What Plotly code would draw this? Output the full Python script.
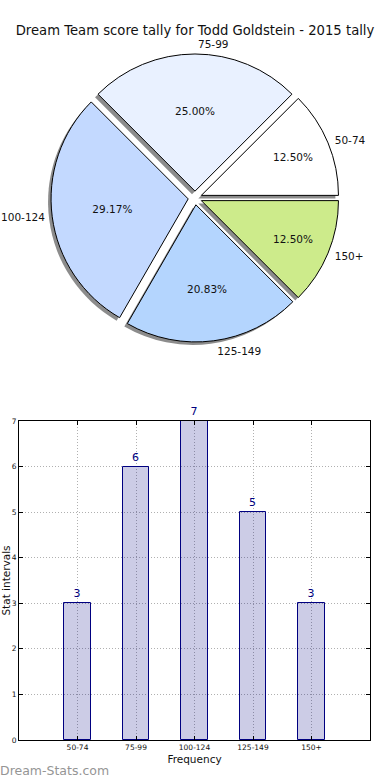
import plotly.graph_objects as go

# ---- data ----
categories = ["50-74", "75-99", "100-124", "125-149", "150+"]
counts = [3, 6, 7, 5, 3]
slice_colors = ["#ffffff", "#e9f1ff", "#c3d9ff", "#b4d5fe", "#cdeb8b"]
title_text = "Dream Team score tally for Todd Goldstein - 2015 tally"
bar_fill = "rgba(0,0,128,0.2)"
bar_edge = "#000080"

W, H = 390, 780
FONT = "DejaVu Sans"

# pie geometry (pixels -> paper)
cx, cy, half = 195, 198, 144
def dom_x(off=0, h=half):
    return [(cx - h + off) / W, (cx + h + off) / W]
def dom_y(off=0, h=half):
    return [(H - (cy + h + off)) / H, (H - (cy - h + off)) / H]

# first slice starts at 3 o'clock, counterclockwise (plotly ccw starts first slice clockwise of rotation)
rot = 90 - 360 * counts[0] / sum(counts)
pull = [0.05] * len(categories)
common = dict(labels=categories, values=counts, sort=False, direction="counterclockwise",
              rotation=rot, pull=pull, hoverinfo="skip", showlegend=False, automargin=False)

fig = go.Figure()
# shadow
fig.add_trace(go.Pie(**common, domain=dict(x=dom_x(-3), y=dom_y(3)),
                     marker=dict(colors=["#8c8c8c"] * 5, line=dict(width=0)),
                     textinfo="none"))
# main pie with percentages
fig.add_trace(go.Pie(**common, domain=dict(x=dom_x(), y=dom_y()),
                     marker=dict(colors=slice_colors, line=dict(color="#000000", width=1)),
                     textinfo="percent", texttemplate="%{percent:.2%}",
                     textposition="inside", insidetextorientation="horizontal",
                     insidetextfont=dict(family=FONT, size=10.5, color="#111111")))
# outside labels (slightly larger invisible pie so labels sit a bit further out)
fig.add_trace(go.Pie(**common, domain=dict(x=dom_x(h=148), y=dom_y(h=148)),
                     marker=dict(colors=["rgba(0,0,0,0)"] * 5, line=dict(width=0)),
                     textinfo="label", textposition="outside",
                     outsidetextfont=dict(family=FONT, size=10.5, color="#111111")))

# bar chart
fig.add_trace(go.Bar(x=categories, y=counts, width=0.45,
                     marker=dict(color=bar_fill, line=dict(color=bar_edge, width=1)),
                     text=counts, textposition="outside", cliponaxis=False,
                     textfont=dict(family=FONT, size=11, color=bar_edge),
                     hoverinfo="skip", showlegend=False))

grid = dict(showgrid=True, gridcolor="#b0b0b0", griddash="1px,2px", gridwidth=1)
fig.update_layout(
    width=W, height=H,
    margin=dict(l=0, r=0, t=0, b=0, pad=0, autoexpand=False),
    paper_bgcolor="white", plot_bgcolor="white",
    font=dict(family=FONT, color="#111111"),
    title=dict(text=title_text, x=0.5, xanchor="center", y=1 - 30 / H, yanchor="middle",
               font=dict(family=FONT, size=13.2, color="#111111")),
    bargap=0,
)
fig.update_xaxes(domain=[19 / W, 370 / W], range=[-1, 5], type="category",
                 showline=True, linecolor="black", linewidth=1, mirror="ticks",
                 ticks="inside", ticklen=4, tickcolor="black", **grid,
                 tickfont=dict(family=FONT, size=7.5, color="#111111"),
                 title=dict(text="Frequency", font=dict(family=FONT, size=10.5), standoff=4),
                 automargin=False, zeroline=False)
fig.update_yaxes(domain=[(H - 740) / H, (H - 421) / H], range=[0, 7], dtick=1,
                 showline=True, linecolor="black", linewidth=1, mirror="ticks",
                 ticks="inside", ticklen=4, tickcolor="black", **grid,
                 tickfont=dict(family=FONT, size=7.5, color="#111111"),
                 title=dict(text="Stat intervals", font=dict(family=FONT, size=10.5), standoff=2),
                 automargin=False, zeroline=False)

fig.add_annotation(text="Dream-Stats.com", xref="paper", yref="paper",
                   x=0, y=(H - 770) / H, xanchor="left", yanchor="middle", showarrow=False,
                   xshift=-2, font=dict(family=FONT, size=12.5, color="#959595"))

fig.write_html("out.html", config={"displayModeBar": False},
               post_script="document.body.style.margin='0';")
